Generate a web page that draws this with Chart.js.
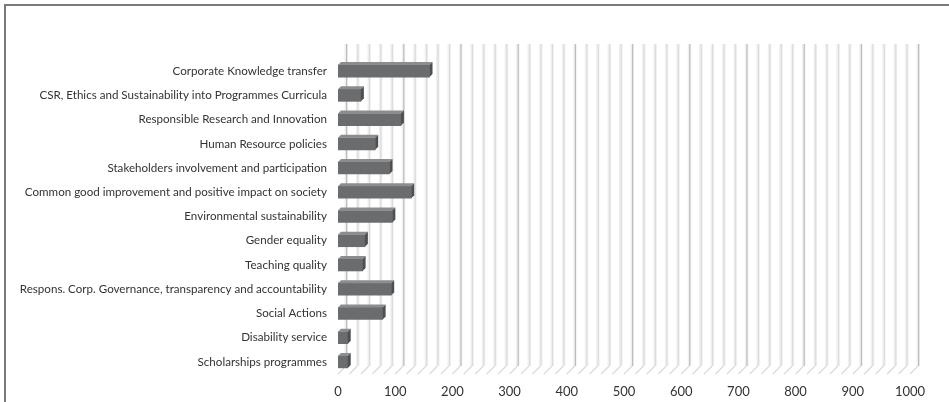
<!DOCTYPE html>
<html>
<head>
<meta charset="utf-8">
<script src="https://cdn.jsdelivr.net/npm/chart.js@4.4.1/dist/chart.umd.min.js"></script>
<style>
html,body{margin:0;padding:0;background:#fff;}
#wrap{position:relative;width:949px;height:402px;overflow:hidden;}
canvas{position:absolute;left:0;top:0;}
#bt{position:absolute;left:4px;top:4px;width:945px;height:2px;background:#7a7a7a;}
#bl{position:absolute;left:4px;top:4px;width:2px;height:398px;background:#7a7a7a;}
</style>
</head>
<body>
<div id="wrap"><canvas id="c" width="949" height="402"></canvas><div id="bt"></div><div id="bl"></div></div>
<script>
const categories = [
  "Corporate Knowledge transfer",
  "CSR, Ethics and Sustainability into Programmes Curricula",
  "Responsible Research and Innovation",
  "Human Resource policies",
  "Stakeholders involvement and participation",
  "Common good improvement and positive impact on society",
  "Environmental sustainability",
  "Gender equality",
  "Teaching quality",
  "Respons. Corp. Governance, transparency and accountability",
  "Social Actions",
  "Disability service",
  "Scholarships programmes"
];
const values = [160, 40, 110, 65, 90, 128, 95, 47, 43, 93, 78, 17, 17];
const xTicks = [0, 100, 200, 300, 400, 500, 600, 700, 800, 900, 1000];
const gridStep = 20;

const DEPTH = 8;

const gridPlugin = {
  id: 'grid3d',
  beforeDatasetsDraw(chart) {
    const ctx = chart.ctx, xs = chart.scales.x, ca = chart.chartArea;
    const top = 44, bottom = ca.bottom;
    ctx.save();
    for (let v = 0; v <= 1000; v += gridStep) {
      const x = xs.getPixelForValue(v) + DEPTH;
      const major = v % 100 === 0;
      ctx.fillStyle = '#f0f0f0';
      ctx.fillRect(x - 1.5, top, 3.5, bottom - DEPTH - top);
      ctx.fillStyle = major ? '#bdbdbd' : '#dcdcdc';
      ctx.fillRect(x, top, 1.2, bottom - DEPTH - top);
      ctx.strokeStyle = '#dadada';
      ctx.lineWidth = 1.2;
      ctx.beginPath();
      ctx.moveTo(x - DEPTH, bottom);
      ctx.lineTo(x, bottom - DEPTH);
      ctx.stroke();
    }
    ctx.restore();
  }
};

const bar3d = {
  id: 'bar3d',
  afterDatasetsDraw(chart) {
    const ctx = chart.ctx;
    const meta = chart.getDatasetMeta(0);
    const d = 3;
    ctx.save();
    meta.data.forEach(b => {
      const p = b.getProps(['x', 'y', 'base', 'height'], true);
      const l = p.base, r = p.x, t = p.y - p.height / 2, bt = p.y + p.height / 2;
      ctx.fillStyle = '#8c8d8f';
      ctx.beginPath();
      ctx.moveTo(l, t); ctx.lineTo(l + d, t - d); ctx.lineTo(r + d, t - d); ctx.lineTo(r, t); ctx.closePath(); ctx.fill();
      ctx.fillStyle = '#4e4f51';
      ctx.beginPath();
      ctx.moveTo(r, t); ctx.lineTo(r + d, t - d); ctx.lineTo(r + d, bt - d); ctx.lineTo(r, bt); ctx.closePath(); ctx.fill();
    });
    ctx.restore();
  }
};

new Chart(document.getElementById('c'), {
  type: 'bar',
  data: {
    labels: categories,
    datasets: [{
      data: values,
      backgroundColor: '#6b6c6e',
      borderWidth: 0,
      barThickness: 12
    }]
  },
  options: {
    indexAxis: 'y',
    responsive: false,
    animation: false,
    devicePixelRatio: 1,
    layout: { padding: { top: 59, left: 6, right: 39, bottom: 0 } },
    plugins: { legend: { display: false }, tooltip: { enabled: false } },
    scales: {
      x: {
        min: 0, max: 1000,
        afterBuildTicks(s) { s.ticks = xTicks.map(v => ({ value: v })); },
        grid: { display: false, drawTicks: false },
        border: { display: false },
        ticks: { color: '#333', font: { family: 'Lato', size: 13 }, padding: 10, maxRotation: 0,
                 callback: v => String(v) },
        afterFit(s) { s.height = 28; }
      },
      y: {
        grid: { display: false, drawTicks: false },
        border: { display: false },
        ticks: { color: '#333', font: { family: 'Lato', size: 11.6 }, padding: 11, autoSkip: false },
        afterFit(s) { s.width = 332; }
      }
    }
  },
  plugins: [gridPlugin, bar3d]
});
</script>
</body>
</html>
